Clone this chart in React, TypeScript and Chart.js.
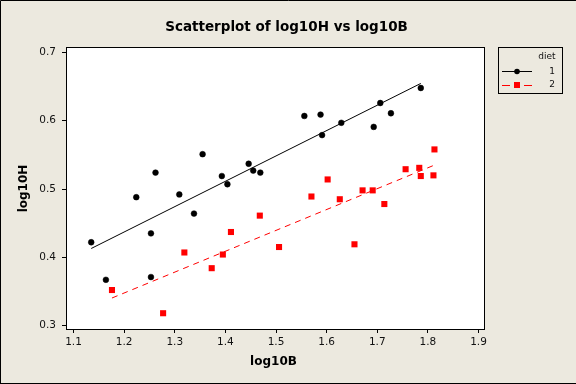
import React, { useEffect, useRef } from "react";
import { Chart, registerables } from "chart.js";

Chart.register(...registerables);

// ---- data ----
const diet1X = [1.135, 1.164, 1.224, 1.262, 1.253, 1.253, 1.309, 1.338, 1.355, 1.393, 1.404, 1.446, 1.455, 1.469, 1.556, 1.588, 1.591, 1.629, 1.693, 1.706, 1.727, 1.786];
const diet1Y = [0.422, 0.367, 0.488, 0.524, 0.435, 0.371, 0.492, 0.464, 0.551, 0.519, 0.507, 0.537, 0.527, 0.524, 0.607, 0.609, 0.579, 0.597, 0.591, 0.626, 0.611, 0.648];
const diet2X = [1.176, 1.277, 1.319, 1.373, 1.395, 1.411, 1.468, 1.506, 1.570, 1.602, 1.626, 1.655, 1.671, 1.691, 1.714, 1.756, 1.783, 1.786, 1.811, 1.813];
const diet2Y = [0.352, 0.318, 0.407, 0.384, 0.404, 0.437, 0.461, 0.415, 0.489, 0.514, 0.485, 0.419, 0.498, 0.498, 0.478, 0.529, 0.531, 0.519, 0.520, 0.558];
const xTicks = [1.1, 1.2, 1.3, 1.4, 1.5, 1.6, 1.7, 1.8, 1.9];
const yTicks = [0.3, 0.4, 0.5, 0.6, 0.7];
const seriesLabels = ["1", "2"];
const titleText = "Scatterplot of log10H vs log10B";
const xTitle = "log10B";
const yTitle = "log10H";
const legendTitle = "diet";

const BG = "#ECE9DF";
const FONT = "'DejaVu Sans', Verdana, sans-serif";

function pts(xs: number[], ys: number[]) {
  return xs.map((x, i) => ({ x, y: ys[i] }));
}

// least-squares fit line over the group's x range
function fitLine(xs: number[], ys: number[]) {
  const n = xs.length;
  const mx = xs.reduce((a, b) => a + b, 0) / n;
  const my = ys.reduce((a, b) => a + b, 0) / n;
  let sxy = 0, sxx = 0;
  for (let i = 0; i < n; i++) {
    sxy += (xs[i] - mx) * (ys[i] - my);
    sxx += (xs[i] - mx) * (xs[i] - mx);
  }
  const b = sxy / sxx;
  const a = my - b * mx;
  const lo = Math.min(...xs);
  const hi = Math.max(...xs);
  return [{ x: lo, y: a + b * lo }, { x: hi, y: a + b * hi }];
}

const decorPlugin = {
  id: "decor",
  beforeDraw(chart: any) {
    const { ctx, width, height } = chart;
    ctx.save();
    ctx.fillStyle = BG;
    ctx.fillRect(0, 0, width, height);
    ctx.fillStyle = "#ffffff";
    ctx.fillRect(66, 47, 419, 283);
    // outer border
    ctx.strokeStyle = "#000";
    ctx.lineWidth = 1;
    ctx.beginPath();
    ctx.moveTo(0.5, height);
    ctx.lineTo(0.5, 0.5);
    ctx.lineTo(width, 0.5);
    ctx.moveTo(0, height - 0.5);
    ctx.lineTo(width, height - 0.5);
    ctx.stroke();
    ctx.restore();
  },
  afterDraw(chart: any) {
    const { ctx } = chart;
    ctx.save();
    // frame
    ctx.strokeStyle = "#000";
    ctx.lineWidth = 1;
    ctx.strokeRect(66.5, 47.5, 418, 282);

    // title
    ctx.fillStyle = "#000";
    ctx.font = `bold 13.5px ${FONT}`;
    ctx.textAlign = "center";
    ctx.textBaseline = "alphabetic";
    ctx.fillText(titleText, 286.5, 31);

    // axis titles
    ctx.font = `bold 12px ${FONT}`;
    ctx.fillText(xTitle, 273.5, 365);
    ctx.save();
    ctx.translate(24, 188.5);
    ctx.rotate(-Math.PI / 2);
    ctx.textBaseline = "middle";
    ctx.fillText(yTitle, 0, 0);
    ctx.restore();

    // legend
    ctx.strokeRect(498.5, 47.5, 64, 46);
    ctx.font = `9px ${FONT}`;
    ctx.textAlign = "right";
    ctx.textBaseline = "middle";
    ctx.fillStyle = "#111";
    ctx.fillText(legendTitle, 555.5, 57);
    ctx.fillText(seriesLabels[0], 555, 71.5);
    ctx.fillText(seriesLabels[1], 555, 85);
    // black sample
    ctx.strokeStyle = "#000";
    ctx.beginPath();
    ctx.moveTo(502, 71.5);
    ctx.lineTo(532, 71.5);
    ctx.stroke();
    ctx.fillStyle = "#000";
    ctx.beginPath();
    ctx.arc(517, 71.5, 2.8, 0, Math.PI * 2);
    ctx.fill();
    // red sample
    ctx.strokeStyle = "#FF0000";
    ctx.beginPath();
    ctx.moveTo(502, 85.5);
    ctx.lineTo(510, 85.5);
    ctx.moveTo(524, 85.5);
    ctx.lineTo(532, 85.5);
    ctx.stroke();
    ctx.fillStyle = "#FF0000";
    ctx.fillRect(514, 82, 6, 6);
    ctx.restore();
  },
};

export default function App() {
  const ref = useRef<HTMLCanvasElement | null>(null);

  useEffect(() => {
    document.body.style.margin = "0";
    const canvas = ref.current;
    if (!canvas) return;
    const chart = new Chart(canvas, {
      type: "scatter",
      data: {
        datasets: [
          {
            label: "fit1",
            data: fitLine(diet1X, diet1Y),
            showLine: true,
            borderColor: "#000",
            borderWidth: 1,
            pointRadius: 0,
          },
          {
            label: "fit2",
            data: fitLine(diet2X, diet2Y),
            showLine: true,
            borderColor: "#FF0000",
            borderWidth: 1,
            borderDash: [6, 5],
            pointRadius: 0,
          },
          {
            label: seriesLabels[0],
            data: pts(diet1X, diet1Y),
            pointStyle: "circle",
            pointRadius: 2.9,
            backgroundColor: "#000",
            borderColor: "#000",
            borderWidth: 0.5,
          },
          {
            label: seriesLabels[1],
            data: pts(diet2X, diet2Y),
            pointStyle: "rect",
            pointRadius: 4.3,
            backgroundColor: "#FF0000",
            borderColor: "#FF0000",
            borderWidth: 0,
          },
        ],
      },
      options: {
        responsive: false,
        animation: false,
        devicePixelRatio: 1,
        layout: { padding: { left: 0, right: 92, top: 48, bottom: 0 } },
        plugins: {
          legend: { display: false },
          title: { display: false },
          tooltip: { enabled: false },
        },
        scales: {
          x: {
            type: "linear",
            min: 1.08716,
            max: 1.91086,
            afterBuildTicks: (s: any) => {
              s.ticks = xTicks.map((v) => ({ value: v }));
            },
            afterFit: (s: any) => {
              s.height = 55;
            },
            border: { display: false },
            grid: {
              display: true,
              drawOnChartArea: false,
              drawTicks: true,
              tickLength: 4,
              color: "#000",
              lineWidth: 1,
            },
            ticks: {
              font: { family: FONT, size: 10.5 },
              color: "#111",
              padding: 3,
              maxRotation: 0,
              autoSkip: false,
              callback: (v: any) => Number(v).toFixed(1),
            },
          },
          y: {
            type: "linear",
            min: 0.29489,
            max: 0.70659,
            afterBuildTicks: (s: any) => {
              s.ticks = yTicks.map((v) => ({ value: v }));
            },
            afterFit: (s: any) => {
              s.width = 67;
            },
            border: { display: false },
            grid: {
              display: true,
              drawOnChartArea: false,
              drawTicks: true,
              tickLength: 5,
              color: "#000",
              lineWidth: 1,
            },
            ticks: {
              font: { family: FONT, size: 10.5 },
              color: "#111",
              padding: 6,
              autoSkip: false,
              callback: (v: any) => Number(v).toFixed(1),
            },
          },
        },
      },
      plugins: [decorPlugin],
    });
    return () => chart.destroy();
  }, []);

  return (
    <div style={{ width: 576, height: 384 }}>
      <canvas ref={ref} width={576} height={384} style={{ display: "block", width: 576, height: 384 }} />
    </div>
  );
}
